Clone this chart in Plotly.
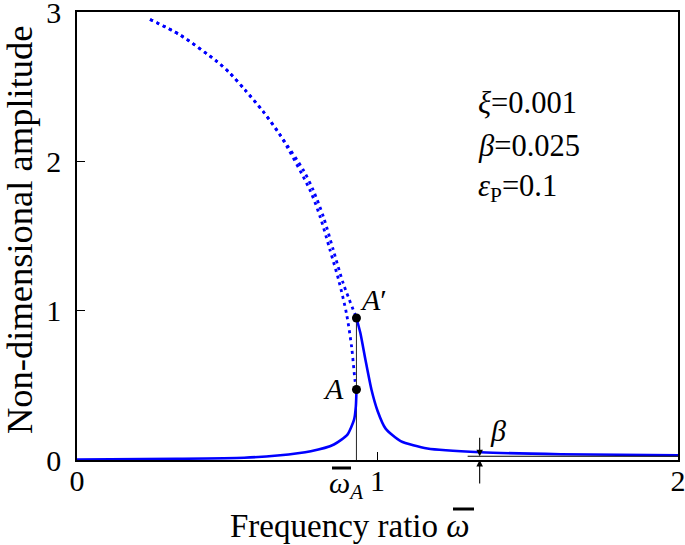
import plotly.graph_objects as go

# ---------------- data ----------------
# solid response, lower branch (0 -> A)
low_w   = [0.0, 0.333, 0.556, 0.667, 0.778, 0.855, 0.900, 0.922, 0.928, 0.930]
low_amp = [0.003, 0.008, 0.015, 0.030, 0.059, 0.104, 0.170, 0.270, 0.360, 0.472]
# solid response, right branch (A' -> 2)
hi_w    = [0.930, 0.943, 0.960, 0.980, 1.000, 1.027, 1.077, 1.166, 1.343, 1.610, 2.000]
hi_amp  = [0.951, 0.850, 0.670, 0.470, 0.330, 0.210, 0.126, 0.077, 0.052, 0.039, 0.032]
# dotted branches: shared upper part, then the branch ending at A' and the one ending at A
top_w   = [0.243, 0.343, 0.466, 0.509, 0.559, 0.620, 0.676]
top_amp = [2.950, 2.846, 2.668, 2.590, 2.478, 2.332, 2.176]
brA1_w   = [0.753, 0.786, 0.820, 0.853, 0.886, 0.930]
brA1_amp = [1.942, 1.808, 1.629, 1.406, 1.183, 0.951]
brA_w    = [0.775, 0.809, 0.842, 0.872, 0.897, 0.914, 0.925, 0.930]
brA_amp  = [1.808, 1.629, 1.406, 1.195, 0.978, 0.755, 0.536, 0.472]

omega_A = 0.930
amp_A = 0.472
amp_A1 = 0.951
beta = 0.025
beta_w = [1.30, 2.0]
beta_arrow_w = 1.34

x_ticks = [0, 1, 2]
y_ticks = [0, 1, 2, 3]
params = ["<i>ξ</i>=0.001", "<i>β</i>=0.025", "<i>ε</i><sub>P</sub>=0.1"]
params_y = [2.39, 2.10, 1.82]

# ---------------- layout geometry ----------------
WIDTH, HEIGHT = 685, 545
PLOT_L, PLOT_R, PLOT_T, PLOT_B = 77, 678, 12, 460   # plot-area edges on screen
ML, MT = PLOT_L, PLOT_T
MR = WIDTH - PLOT_R
MB = HEIGHT - PLOT_B
PW = PLOT_R - PLOT_L
PH = PLOT_B - PLOT_T

def pxx(px):
    return (px - PLOT_L) / PW

def pxy(py):
    return (PLOT_B - py) / PH

FONT = "Liberation Serif"
BLUE = "#0000ff"

fig = go.Figure()

dot_line = dict(color=BLUE, width=2.8, dash="3px,4px", shape="spline", smoothing=0.8)
fig.add_trace(go.Scatter(x=top_w + brA1_w, y=top_amp + brA1_amp, mode="lines",
                         line=dot_line, showlegend=False, hoverinfo="skip"))
fig.add_trace(go.Scatter(x=top_w + brA_w, y=top_amp + brA_amp, mode="lines",
                         line=dot_line, showlegend=False, hoverinfo="skip"))
# vertical jump line
fig.add_trace(go.Scatter(x=[omega_A, omega_A], y=[0, amp_A1], mode="lines",
                         line=dict(color="#333333", width=1.1), showlegend=False, hoverinfo="skip"))
fig.add_trace(go.Scatter(x=low_w, y=low_amp, mode="lines",
                         line=dict(color=BLUE, width=2.6, shape="spline", smoothing=0.6),
                         showlegend=False, hoverinfo="skip"))
fig.add_trace(go.Scatter(x=hi_w, y=hi_amp, mode="lines",
                         line=dict(color=BLUE, width=2.6, shape="spline", smoothing=0.6),
                         showlegend=False, hoverinfo="skip"))
# beta reference line
fig.add_trace(go.Scatter(x=beta_w, y=[beta, beta], mode="lines",
                         line=dict(color="black", width=1.2), showlegend=False, hoverinfo="skip"))
# points A and A'
fig.add_trace(go.Scatter(x=[omega_A, omega_A], y=[amp_A, amp_A1], mode="markers",
                         marker=dict(color="black", size=9), showlegend=False, hoverinfo="skip"))

ann = []
f30 = dict(family=FONT, size=30, color="black")
for t, yy in zip(params, params_y):
    ann.append(dict(x=1.327, y=yy, xref="x", yref="y", text=t, showarrow=False,
                    xanchor="left", yanchor="middle", font=dict(family=FONT, size=30.5, color="black")))
ann.append(dict(x=omega_A, y=amp_A, xref="x", yref="y", text="<i>A</i>", showarrow=False,
                xanchor="right", yanchor="middle", xshift=-10, yshift=1, font=f30))
ann.append(dict(x=omega_A, y=amp_A1, xref="x", yref="y", text="<i>A</i>′", showarrow=False,
                xanchor="left", yanchor="middle", xshift=2, yshift=18, font=f30))
ann.append(dict(x=1.40, y=0.20, xref="x", yref="y", text="<i>β</i>", showarrow=False,
                xanchor="center", yanchor="middle", font=f30))
# dimension arrows for beta
ann.append(dict(x=beta_arrow_w, y=beta, xref="x", yref="y", ax=0, ay=-20, text="",
                showarrow=True, arrowhead=2, arrowsize=1.2, arrowwidth=1.1, arrowcolor="black"))
ann.append(dict(x=beta_arrow_w, y=0, xref="x", yref="y", ax=0, ay=25, text="",
                showarrow=True, arrowhead=2, arrowsize=1.2, arrowwidth=1.1, arrowcolor="black"))
# omega_A tick label
ann.append(dict(x=omega_A, y=0, xref="x", yref="paper", text="<i>ω</i><sub><i>A</i></sub>",
                showarrow=False, xanchor="center", yanchor="top", xshift=-10, yshift=-4, font=f30))
# x-axis title
ann.append(dict(x=pxx(350), y=pxy(526), xref="paper", yref="paper", text="Frequency ratio <i>ω</i>",
                showarrow=False, xanchor="center", yanchor="middle",
                font=dict(family=FONT, size=33, color="black")))
# y-axis title
ann.append(dict(x=pxx(19), y=pxy(230), xref="paper", yref="paper", text="Non-dimensional amplitude",
                showarrow=False, xanchor="center", yanchor="middle", textangle=-90,
                font=dict(family=FONT, size=36.5, color="black")))

shapes = [
    # overbar for omega_A
    dict(type="line", xref="paper", yref="paper", x0=pxx(332), x1=pxx(351), y0=pxy(468), y1=pxy(468),
         line=dict(color="black", width=3)),
    # overbar for omega in title
    dict(type="line", xref="paper", yref="paper", x0=pxx(453), x1=pxx(474), y0=pxy(509), y1=pxy(509),
         line=dict(color="black", width=3)),
]

axis_common = dict(ticks="inside", ticklen=8, tickwidth=1, tickcolor="black",
                   showline=True, linecolor="black", linewidth=1.5, mirror=True,
                   showgrid=False, zeroline=False, tickfont=f30, automargin=False,
                   ticklabeloverflow="allow")

fig.update_layout(
    width=WIDTH, height=HEIGHT,
    margin=dict(l=ML, r=MR, t=MT, b=MB, pad=0),
    paper_bgcolor="white", plot_bgcolor="white",
    font=dict(family=FONT, size=30, color="black"),
    annotations=ann, shapes=shapes,
    xaxis=dict(range=[0, 2], tickvals=x_ticks, ticktext=[str(v) for v in x_ticks],
               ticklabelstandoff=-7, **axis_common),
    yaxis=dict(range=[0, 3], tickvals=y_ticks, ticktext=[str(v) for v in y_ticks],
               ticklabelstandoff=8, **axis_common),
)

# place the figure flush with the page corner (remove the browser's default body margin)
fig.write_html("out.html", config={"displayModeBar": False},
               post_script="document.body.style.margin='0';")
